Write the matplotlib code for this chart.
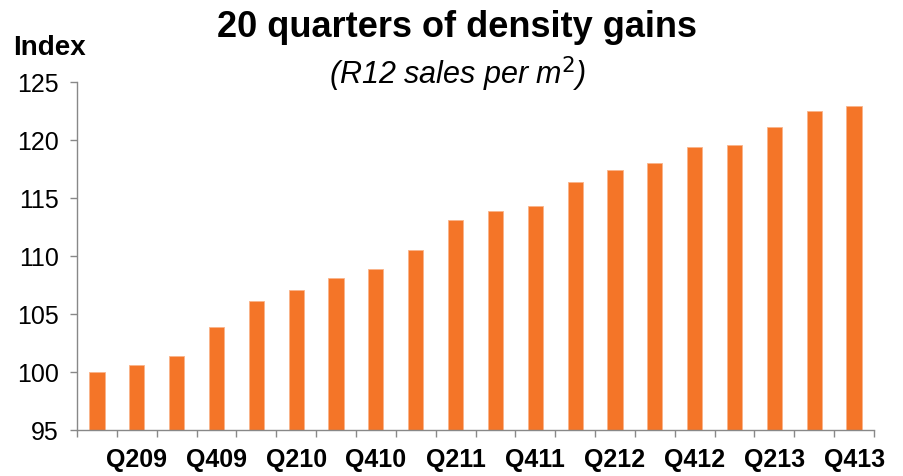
import numpy as np
import matplotlib.pyplot as plt

# Data
quarters = ["Q109", "Q209", "Q309", "Q409", "Q110", "Q210", "Q310", "Q410",
            "Q111", "Q211", "Q311", "Q411", "Q112", "Q212", "Q312", "Q412",
            "Q113", "Q213", "Q313", "Q413"]
index_values = [100.0, 100.6, 101.4, 103.9, 106.1, 107.1, 108.1, 108.9,
                110.5, 113.1, 113.9, 114.3, 116.4, 117.4, 118.0, 119.4,
                119.6, 121.1, 122.5, 122.9]
y_ticks = [95, 100, 105, 110, 115, 120, 125]

plt.rcParams['font.family'] = ['Liberation Sans', 'DejaVu Sans']

fig = plt.figure(figsize=(9.04, 4.76), dpi=100)
ax = fig.add_axes([0.0852, 0.0966, 0.8816, 0.7311])

x = np.arange(len(quarters))
ax.bar(x, index_values, width=0.38, color='#F47528', edgecolor='#F9B48A',
       linewidth=0.6)

ax.set_xlim(-0.5, len(quarters) - 0.5)
ax.set_ylim(95, 125)
ax.set_yticks(y_ticks)
ax.tick_params(axis='y', labelsize=18, length=5, width=1, color='#888888', pad=8)

# labels on every second quarter, tick marks at category boundaries
ax.set_xticks(x[1::2])
ax.set_xticklabels(quarters[1::2], fontsize=18, fontweight='bold')
ax.tick_params(axis='x', which='major', length=0, pad=13)
ax.set_xticks(np.arange(-0.5, len(quarters)), minor=True)
ax.tick_params(axis='x', which='minor', length=5, width=1, color='#888888')

for s in ['top', 'right']:
    ax.spines[s].set_visible(False)
for s in ['left', 'bottom']:
    ax.spines[s].set_color('#888888')
    ax.spines[s].set_linewidth(1)

fig.text(0.505, 0.943, "20 quarters of density gains", ha='center', va='center',
         fontsize=26, fontweight='bold')
fig.text(0.506, 0.843, r"(R12 sales per m$^{2}$)", ha='center', va='center',
         fontsize=22, style='italic')
fig.text(0.015, 0.9, "Index", ha='left', va='center', fontsize=20, fontweight='bold')

fig.savefig('out.png', dpi=100)
